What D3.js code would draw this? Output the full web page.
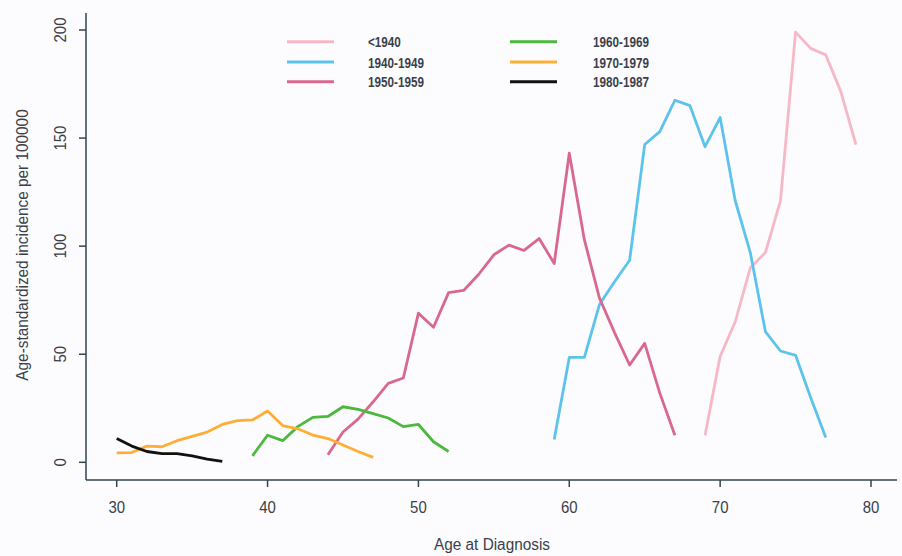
<!DOCTYPE html>
<html>
<head>
<meta charset="utf-8">
<script src="https://cdn.jsdelivr.net/npm/d3@7"></script>
<style>
  body { margin: 0; background: #fcfcfe; }
  svg { display: block; font-family: "Liberation Sans", Arial, sans-serif; }
</style>
</head>
<body>
<svg id="chart" width="902" height="556"></svg>
<script>
  // cohorts and their incidence curves (age, rate per 100000)
  var cohorts = ["<1940", "1940-1949", "1950-1959", "1960-1969", "1970-1979", "1980-1987"];
  var colors = ["#f7b8c6", "#5cc3ec", "#d9688f", "#4cb83e", "#ffae35", "#111111"];

  var agesPre1940 = [69, 70, 71, 72, 73, 74, 75, 76, 77, 78, 79];
  var ratesPre1940 = [12.5, 49, 65, 90, 97, 121, 199, 191.5, 188.5, 171.5, 147];

  var ages1940 = [59, 60, 61, 62, 63, 64, 65, 66, 67, 68, 69, 70, 71, 72, 73, 74, 75, 76, 77];
  var rates1940 = [10.5, 48.5, 48.5, 73, 83.5, 93.5, 147, 153, 167.5, 165, 146, 159.5, 121, 97, 60.5, 51.5, 49.5, 30, 11.5];

  var ages1950 = [44, 45, 46, 47, 48, 49, 50, 51, 52, 53, 54, 55, 56, 57, 58, 59, 60, 61, 62, 63, 64, 65, 66, 67];
  var rates1950 = [3.5, 14, 20, 28, 36.5, 39, 69, 62.5, 78.5, 79.5, 87, 96, 100.5, 98, 103.5, 92, 143, 103, 76, 60, 45, 55, 32, 12.5];

  var ages1960 = [39, 40, 41, 42, 43, 44, 45, 46, 47, 48, 49, 50, 51, 52];
  var rates1960 = [3, 12.5, 10, 16.5, 20.8, 21.2, 25.7, 24.5, 22.5, 20.5, 16.5, 17.5, 9.5, 5];

  var ages1970 = [30, 31, 32, 33, 34, 35, 36, 37, 38, 39, 40, 41, 42, 43, 44, 45, 46, 47];
  var rates1970 = [4.4, 4.5, 7.5, 7.2, 10, 12, 14, 17.5, 19.3, 19.6, 23.7, 17, 15.5, 12.6, 11, 8, 5, 2.3];

  var ages1980 = [30, 31, 32, 33, 34, 35, 36, 37];
  var rates1980 = [11, 7.5, 5, 4, 4, 3, 1.5, 0.4];

  var xTicks = [30, 40, 50, 60, 70, 80];
  var yTicks = [0, 50, 100, 150, 200];

  var series = [
    [agesPre1940, ratesPre1940],
    [ages1940, rates1940],
    [ages1950, rates1950],
    [ages1960, rates1960],
    [ages1970, rates1970],
    [ages1980, rates1980]
  ];

  var svg = d3.select("#chart");
  var axisColor = "#34454f";
  var textColor = "#3a3f4a";

  // plot frame (R style "L" box)
  var frame = { left: 86, right: 897, top: 13, bottom: 480 };

  var x = d3.scaleLinear().domain([30, 80]).range([116.7, 871]);
  var y = d3.scaleLinear().domain([0, 200]).range([462.3, 30]);

  // condensed text helper: the original output is squeezed horizontally
  function label(g, tx, ty, str, opts) {
    opts = opts || {};
    var t = g.append("text")
      .attr("transform", "translate(" + tx + "," + ty + ")" +
        (opts.rotate ? " rotate(" + opts.rotate + ")" : "") +
        " scale(" + (opts.sx || 0.86) + ",1)")
      .attr("text-anchor", opts.anchor || "middle")
      .attr("font-size", opts.size || 16)
      .attr("font-weight", opts.weight || "normal")
      .attr("fill", opts.fill || textColor)
      .text(str);
    return t;
  }

  // axes lines
  svg.append("line")
    .attr("x1", frame.left).attr("x2", frame.left)
    .attr("y1", frame.top).attr("y2", frame.bottom)
    .attr("stroke", axisColor).attr("stroke-width", 1.5);
  svg.append("line")
    .attr("x1", frame.left).attr("x2", frame.right)
    .attr("y1", frame.bottom).attr("y2", frame.bottom)
    .attr("stroke", axisColor).attr("stroke-width", 1.5);

  var gx = svg.append("g");
  xTicks.forEach(function(t) {
    gx.append("line")
      .attr("x1", x(t)).attr("x2", x(t))
      .attr("y1", frame.bottom).attr("y2", frame.bottom + 7)
      .attr("stroke", axisColor).attr("stroke-width", 1.5);
    label(gx, x(t), 513, t, { size: 17, sx: 0.88 });
  });

  var gy = svg.append("g");
  yTicks.forEach(function(t) {
    gy.append("line")
      .attr("x1", frame.left - 7).attr("x2", frame.left)
      .attr("y1", y(t)).attr("y2", y(t))
      .attr("stroke", axisColor).attr("stroke-width", 1.5);
    label(gy, 66, y(t), t, { rotate: -90, size: 17, sx: 0.88 });
  });

  label(svg, 492, 550, "Age at Diagnosis", { size: 16, sx: 0.96 });
  label(svg, 28, 245, "Age-standardized incidence per 100000", { size: 16, sx: 0.96, rotate: -90 });

  // curves
  var line = d3.line()
    .x(function(d) { return x(d[0]); })
    .y(function(d) { return y(d[1]); });

  series.forEach(function(s, i) {
    var pts = s[0].map(function(a, j) { return [a, s[1][j]]; });
    svg.append("path")
      .datum(pts)
      .attr("d", line)
      .attr("fill", "none")
      .attr("stroke", colors[i])
      .attr("stroke-width", 2.8)
      .attr("stroke-linejoin", "round");
  });

  // legend, two columns of three
  var legend = svg.append("g");
  var colLine = [287, 510];
  var colText = [368, 593];
  var rowY = [41.7, 62, 81.7];
  cohorts.forEach(function(c, i) {
    var col = Math.floor(i / 3), row = i % 3;
    legend.append("line")
      .attr("x1", colLine[col]).attr("x2", colLine[col] + 47)
      .attr("y1", rowY[row]).attr("y2", rowY[row])
      .attr("stroke", colors[i]).attr("stroke-width", 3);
    label(legend, colText[col], rowY[row] + 5.5, c,
      { anchor: "start", size: 15, weight: "bold", sx: 0.78 });
  });
</script>
</body>
</html>
